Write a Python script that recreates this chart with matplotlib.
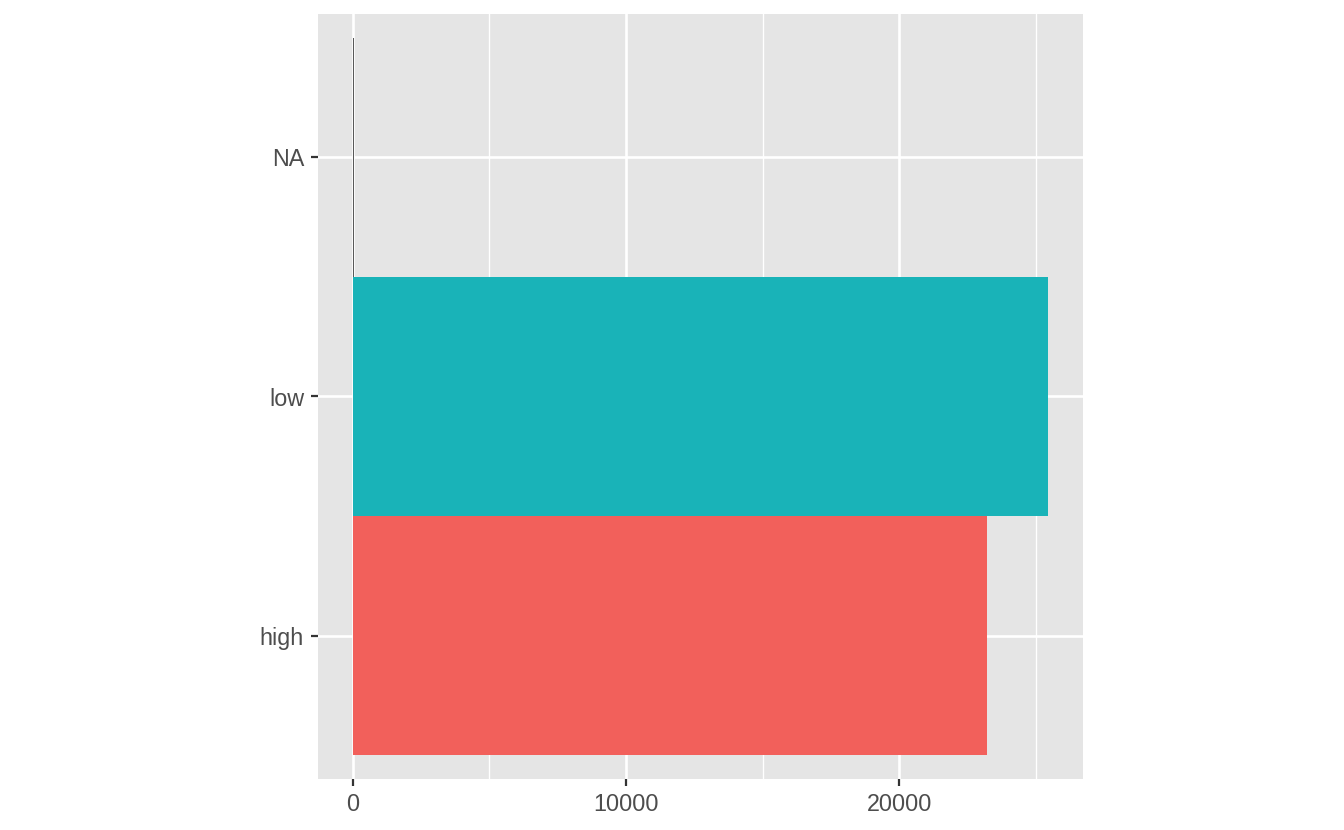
import matplotlib.pyplot as plt
from matplotlib.ticker import MultipleLocator

# data
categories = ['high', 'low', 'NA']
counts = [23220, 25460, 30]
bar_colors = ['#F2605B', '#19B3B8', '#595959']

plt.rcParams['font.family'] = ['Liberation Sans', 'DejaVu Sans']

fig = plt.figure(figsize=(13.44, 8.30), dpi=100)
ax = fig.add_axes([318 / 1344, 1 - 779 / 830, 765 / 1344, 765 / 830])
ax.set_facecolor('#E5E5E5')

ypos = list(range(1, len(categories) + 1))
ax.barh(ypos, counts, height=1.0, color=bar_colors, zorder=3)

xmax = max(counts)
ax.set_xlim(-0.05 * xmax, 1.05 * xmax)
ax.set_ylim(0.4, len(categories) + 0.6)

ax.xaxis.set_major_locator(MultipleLocator(10000))
ax.xaxis.set_minor_locator(MultipleLocator(5000))
ax.set_yticks(ypos)
ax.set_yticklabels(categories)

ax.grid(which='major', color='white', linewidth=1.9, zorder=1)
ax.grid(which='minor', axis='x', color='white', linewidth=0.95, zorder=1)
ax.set_axisbelow(True)

for s in ax.spines.values():
    s.set_visible(False)

ax.tick_params(which='major', length=5, width=1.6, color='#333333',
               labelsize=16.8, labelcolor='#4D4D4D', pad=5)
ax.tick_params(which='minor', length=0)

fig.savefig('out.png', dpi=100)
